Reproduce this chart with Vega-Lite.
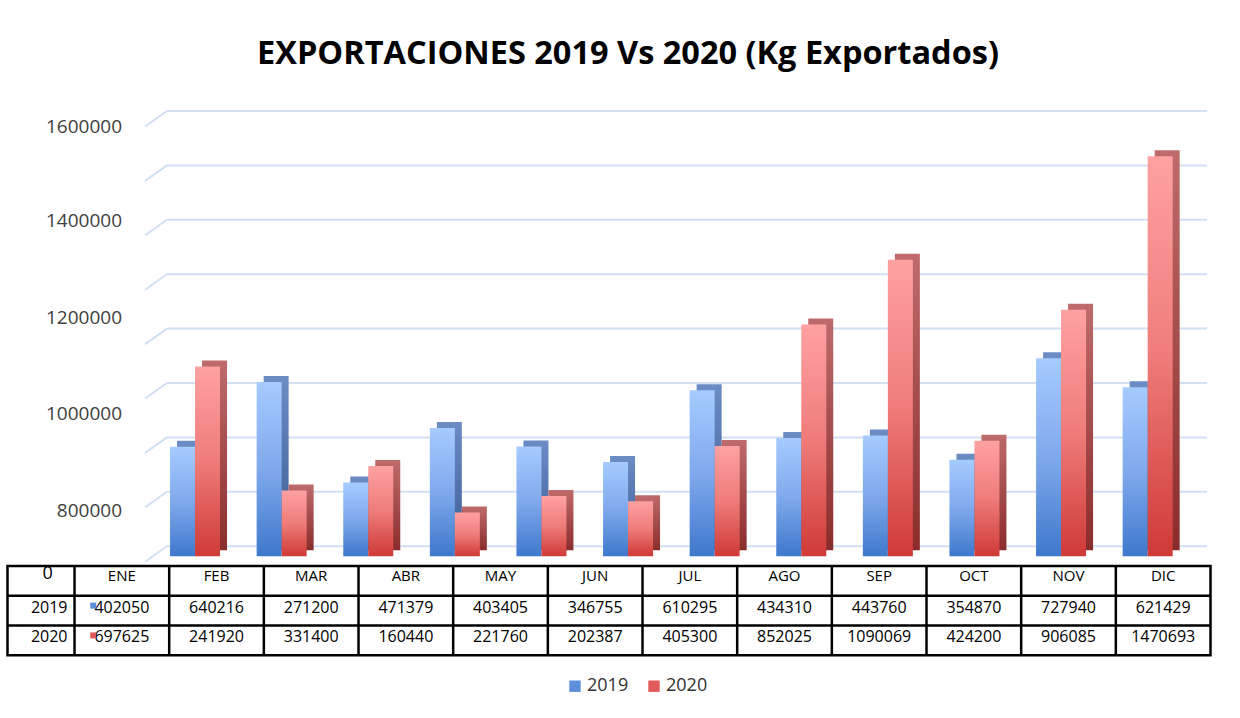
{
  "$schema": "https://vega.github.io/schema/vega-lite/v6.json",
  "padding": {"left": 4.5, "top": 38, "right": 0, "bottom": 0},
  "background": "white",
  "spacing": 0,
  "bounds": "flush",
  "config": {"view": {"stroke": null}, "font": "Open Sans"},
  "datasets": {
    "exp": [
      {"month": "ENE", "year": "2019", "value": 402050},
      {"month": "FEB", "year": "2019", "value": 640216},
      {"month": "MAR", "year": "2019", "value": 271200},
      {"month": "ABR", "year": "2019", "value": 471379},
      {"month": "MAY", "year": "2019", "value": 403405},
      {"month": "JUN", "year": "2019", "value": 346755},
      {"month": "JUL", "year": "2019", "value": 610295},
      {"month": "AGO", "year": "2019", "value": 434310},
      {"month": "SEP", "year": "2019", "value": 443760},
      {"month": "OCT", "year": "2019", "value": 354870},
      {"month": "NOV", "year": "2019", "value": 727940},
      {"month": "DIC", "year": "2019", "value": 621429},
      {"month": "ENE", "year": "2020", "value": 697625},
      {"month": "FEB", "year": "2020", "value": 241920},
      {"month": "MAR", "year": "2020", "value": 331400},
      {"month": "ABR", "year": "2020", "value": 160440},
      {"month": "MAY", "year": "2020", "value": 221760},
      {"month": "JUN", "year": "2020", "value": 202387},
      {"month": "JUL", "year": "2020", "value": 405300},
      {"month": "AGO", "year": "2020", "value": 852025},
      {"month": "SEP", "year": "2020", "value": 1090069},
      {"month": "OCT", "year": "2020", "value": 424200},
      {"month": "NOV", "year": "2020", "value": 906085},
      {"month": "DIC", "year": "2020", "value": 1470693}
    ],
    "grid": [
      {"value": 0, "from": "ENE", "to": "DIC"},
      {"value": 200000, "from": "ENE", "to": "DIC"},
      {"value": 400000, "from": "ENE", "to": "DIC"},
      {"value": 600000, "from": "ENE", "to": "DIC"},
      {"value": 800000, "from": "ENE", "to": "DIC"},
      {"value": 1000000, "from": "ENE", "to": "DIC"},
      {"value": 1200000, "from": "ENE", "to": "DIC"},
      {"value": 1400000, "from": "ENE", "to": "DIC"},
      {"value": 1600000, "from": "ENE", "to": "DIC"}
    ]
  },
  "vconcat": [
    {
      "width": 1203,
      "height": 454.2,
      "title": {
        "text": "EXPORTACIONES 2019 Vs 2020 (Kg Exportados)",
        "font": "Open Sans",
        "fontSize": 32.5,
        "fontWeight": "bold",
        "color": "#000000",
        "anchor": "middle",
        "dx": 19,
        "offset": 39.5
      },
      "encoding": {
        "y": {
          "field": "value",
          "type": "quantitative",
          "scale": {"domain": [-69853, 1600000], "nice": false, "zero": false},
          "axis": {
            "values": [131300, 487900, 840000, 1197000, 1543000],
            "labelExpr": "datum.value > 1400000 ? '1600000' : datum.value > 1000000 ? '1400000' : datum.value > 700000 ? '1200000' : datum.value > 300000 ? '1000000' : '800000'",
            "orient": "left",
            "offset": -116,
            "labelPadding": 2,
            "ticks": false,
            "domain": false,
            "grid": false,
            "title": null,
            "labelFont": "Open Sans",
            "labelFontSize": 19,
            "labelColor": "#404040"
          }
        }
      },
      "layer": [
        {
          "data": {"name": "grid"},
          "mark": {"type": "rule", "color": "#D3E0F3", "strokeWidth": 2, "xOffset": 10.6, "x2Offset": 59.4},
          "encoding": {
            "x": {"field": "from", "type": "nominal", "bandPosition": 0,
                  "scale": {"domain": ["ENE","FEB","MAR","ABR","MAY","JUN","JUL","AGO","SEP","OCT","NOV","DIC"], "paddingInner": 0.109, "paddingOuter": 1, "align": 0.86},
                  "axis": null},
            "x2": {"field": "to"}
          }
        },
        {
          "data": {"name": "grid"},
          "mark": {"type": "rule", "color": "#D3E0F3", "strokeWidth": 2, "xOffset": -11.4, "x2Offset": -28, "yOffset": 15.5},
          "encoding": {
            "x": {"field": "from", "type": "nominal", "bandPosition": 0, "axis": null},
            "x2": {"field": "from"},
            "y2": {"field": "value"}
          }
        },
        {
          "data": {"name": "exp"},
          "transform": [{"filter": "datum.year == '2019'"}],
          "mark": {
            "type": "bar", "width": {"band": 0.324}, "xOffset": -5.5, "yOffset": 4, "y2Offset": 4,
            "fill": {"gradient": "linear", "x1": 0, "y1": 0, "x2": 0, "y2": 1,
                     "stops": [{"offset": 0, "color": "#6B8CC5"}, {"offset": 1, "color": "#3A5B92"}]}
          },
          "encoding": {
            "x": {"field": "month", "type": "nominal", "axis": null},
            "y2": {"datum": 0}
          }
        },
        {
          "data": {"name": "exp"},
          "transform": [{"filter": "datum.year == '2020'"}],
          "mark": {
            "type": "bar", "width": {"band": 0.324}, "xOffset": 19.5, "yOffset": 4, "y2Offset": 4,
            "fill": {"gradient": "linear", "x1": 0, "y1": 0, "x2": 0, "y2": 1,
                     "stops": [{"offset": 0, "color": "#BF6B6B"}, {"offset": 1, "color": "#8A2C2C"}]}
          },
          "encoding": {
            "x": {"field": "month", "type": "nominal", "axis": null},
            "y2": {"datum": 0}
          }
        },
        {
          "data": {"name": "exp"},
          "transform": [{"filter": "datum.year == '2019'"}],
          "mark": {
            "type": "bar", "width": {"band": 0.324}, "xOffset": -12.5, "yOffset": 10, "y2Offset": 10,
            "fill": {"gradient": "linear", "x1": 0, "y1": 0, "x2": 0, "y2": 1,
                     "stops": [{"offset": 0, "color": "#A5CBFF"}, {"offset": 0.5, "color": "#80A9EC"}, {"offset": 1, "color": "#3E78CC"}]}
          },
          "encoding": {
            "x": {"field": "month", "type": "nominal", "axis": null},
            "y2": {"datum": 0}
          }
        },
        {
          "data": {"name": "exp"},
          "transform": [{"filter": "datum.year == '2020'"}],
          "mark": {
            "type": "bar", "width": {"band": 0.324}, "xOffset": 12.5, "yOffset": 10, "y2Offset": 10,
            "fill": {"gradient": "linear", "x1": 0, "y1": 0, "x2": 0, "y2": 1,
                     "stops": [{"offset": 0, "color": "#FFA1A1"}, {"offset": 0.5, "color": "#EE7C7A"}, {"offset": 1, "color": "#CF3A36"}]}
          },
          "encoding": {
            "x": {"field": "month", "type": "nominal", "axis": null},
            "y2": {"datum": 0}
          }
        }
      ]
    },
    {
      "width": 1203,
      "height": 89.3,
      "view": {"stroke": "#000000", "strokeWidth": 2.5},
      "data": {"name": "exp"},
      "layer": [
        {
          "transform": [{"filter": "datum.year == '2019'"}],
          "mark": {"type": "rule", "color": "#000000", "strokeWidth": 2.5},
          "encoding": {
            "x": {"field": "month", "type": "nominal", "bandPosition": 0,
                  "scale": {"domain": ["ENE","FEB","MAR","ABR","MAY","JUN","JUL","AGO","SEP","OCT","NOV","DIC"], "paddingInner": 0, "paddingOuter": 0.354, "align": 1},
                  "axis": null}
          }
        },
        {
          "transform": [{"filter": "datum.month == 'ENE'"}],
          "mark": {"type": "rule", "color": "#000000", "strokeWidth": 2.5},
          "encoding": {
            "y": {"field": "year", "type": "nominal", "bandPosition": 0,
                  "scale": {"domain": ["hdr", "2019", "2020"], "paddingInner": 0, "paddingOuter": 0},
                  "axis": null}
          }
        },
        {
          "transform": [{"filter": "datum.year == '2019'"}],
          "mark": {"type": "text", "fontSize": 15, "color": "#000000", "baseline": "middle", "dy": -5},
          "encoding": {
            "x": {"field": "month", "type": "nominal", "axis": null},
            "y": {"datum": "hdr", "type": "nominal", "axis": null},
            "text": {"field": "month"}
          }
        },
        {
          "mark": {"type": "text", "fontSize": 16, "color": "#000000", "baseline": "middle", "dy": -3},
          "encoding": {
            "x": {"field": "month", "type": "nominal", "axis": null},
            "y": {"field": "year", "type": "nominal", "axis": null},
            "text": {"field": "value"}
          }
        },
        {
          "transform": [{"filter": "datum.month == 'ENE'"}],
          "mark": {"type": "text", "fontSize": 16, "color": "#000000", "baseline": "middle", "align": "right", "dy": -3, "xOffset": -7},
          "encoding": {
            "x": {"datum": "ENE", "type": "nominal", "bandPosition": 0, "axis": null},
            "y": {"field": "year", "type": "nominal", "axis": null},
            "text": {"field": "year"}
          }
        },
        {
          "transform": [{"filter": "datum.month == 'ENE' && datum.year == '2019'"}],
          "mark": {"type": "text", "fontSize": 18, "color": "#000000", "baseline": "middle", "align": "center", "dy": -7, "xOffset": -27},
          "encoding": {
            "x": {"datum": "ENE", "type": "nominal", "bandPosition": 0, "axis": null},
            "y": {"datum": "hdr", "type": "nominal", "axis": null},
            "text": {"value": "0"}
          }
        },
        {
          "transform": [{"filter": "datum.month == 'ENE'"}],
          "mark": {"type": "square", "size": 36, "opacity": 1, "xOffset": 18.7, "yOffset": -5},
          "encoding": {
            "x": {"datum": "ENE", "type": "nominal", "bandPosition": 0, "axis": null},
            "y": {"field": "year", "type": "nominal", "axis": null},
            "color": {
              "field": "year", "type": "nominal",
              "scale": {"domain": ["2019", "2020"], "range": ["#5B8EDB", "#E05A5A"]},
              "legend": {
                "orient": "none", "legendX": 558.5, "legendY": 566.2, "direction": "horizontal",
                "title": null, "symbolType": "square", "symbolSize": 130, "symbolStrokeWidth": 0,
                "labelFont": "Open Sans", "labelFontSize": 18, "labelColor": "#333333",
                "columnPadding": 16, "labelOffset": 3, "padding": 0
              }
            }
          }
        }
      ]
    }
  ]
}
